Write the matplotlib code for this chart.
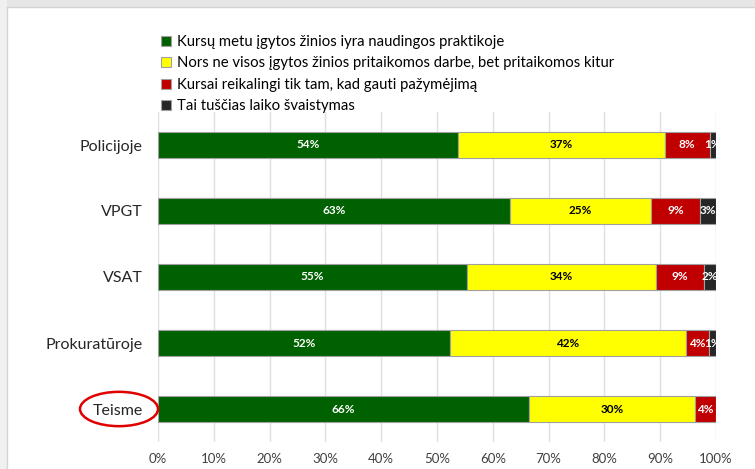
import matplotlib.pyplot as plt
import numpy as np
from matplotlib.patches import Ellipse, Rectangle
from matplotlib.lines import Line2D
from matplotlib.transforms import blended_transform_factory

plt.rcParams['font.family'] = ['Lato', 'DejaVu Sans']

categories = ['Policijoje', 'VPGT', 'VSAT', 'Prokuratūroje', 'Teisme']
series = ['Kursų metu įgytos žinios iyra naudingos praktikoje',
          'Nors ne visos įgytos žinios pritaikomos darbe, bet pritaikomos kitur',
          'Kursai reikalingi tik tam, kad gauti pažymėjimą',
          'Tai tuščias laiko švaistymas']
values = [
    [53.8, 63.1, 55.4, 52.4, 66.4],
    [37.0, 25.3, 33.8, 42.2, 29.9],
    [8.1, 8.8, 8.6, 4.1, 3.7],
    [1.1, 2.8, 2.2, 1.3, 0.0],
]
labels = [
    ['54%', '63%', '55%', '52%', '66%'],
    ['37%', '25%', '34%', '42%', '30%'],
    ['8%', '9%', '9%', '4%', '4%'],
    ['1%', '3%', '2%', '1%', ''],
]
colors = ['#006100', '#ffff00', '#c00000', '#262626']
text_colors = ['white', 'black', 'white', 'white']

fig = plt.figure(figsize=(7.55, 4.69), dpi=100)

# window frame
fig.patches.append(Rectangle((0, 1 - 7/469), 1, 7/469, transform=fig.transFigure,
                             facecolor='#e6e6e6', edgecolor='none'))
fig.patches.append(Rectangle((0, 0), 7/755, 1, transform=fig.transFigure,
                             facecolor='#f0f0f0', edgecolor='none'))
fig.lines.append(Line2D([7/755, 7/755], [0, 1 - 7/469], transform=fig.transFigure,
                        color='#d4d4d4', lw=1))
fig.lines.append(Line2D([7/755, 1], [1 - 7/469, 1 - 7/469], transform=fig.transFigure,
                        color='#d4d4d4', lw=1))

ax = fig.add_axes([158/755, 27/469, 558/755, 330/469])
y = np.arange(len(categories))
left = np.zeros(len(categories))
handles = []
for i in range(len(series)):
    v = np.array(values[i])
    b = ax.barh(y, v, left=left, height=0.4, color=colors[i],
                edgecolor='#a0a0a0', linewidth=0.8, label=series[i], zorder=3)
    handles.append(b)
    for j in range(len(categories)):
        if labels[i][j]:
            ax.text(left[j] + v[j] / 2, y[j], labels[i][j], ha='center', va='center',
                    color=text_colors[i], fontsize=8.5, fontweight='bold', zorder=4)
    left += v

ax.set_xlim(0, 100)
ax.set_ylim(len(categories) - 0.5, -0.5)
ax.set_xticks(np.arange(0, 101, 10))
ax.set_xticklabels([f'{t}%' for t in range(0, 101, 10)], fontsize=9.5, color='#404040')
ax.set_yticks(y)
ax.set_yticklabels(categories, fontsize=11.5, color='#262626')
ax.tick_params(axis='both', length=0)
ax.tick_params(axis='x', pad=8)
ax.tick_params(axis='y', pad=11)
ax.grid(axis='x', color='#e0e0e0', lw=1, zorder=0)
for s in ax.spines.values():
    s.set_visible(False)

# red ellipse around Teisme
tr = blended_transform_factory(fig.transFigure, ax.transData)
ax.add_patch(Ellipse((119/755, 4), 78/755, 0.52, transform=tr, fill=False,
                     edgecolor='#e00000', lw=1.8, clip_on=False, zorder=5))

fig.legend(handles=handles, labels=series, loc='upper left',
           bbox_to_anchor=(155/755, 1 - 29/469), frameon=False, fontsize=10.75,
           handlelength=0.65, handleheight=0.65, handletextpad=0.4,
           labelspacing=0.5, borderaxespad=0)

fig.savefig('out.png', dpi=100)
